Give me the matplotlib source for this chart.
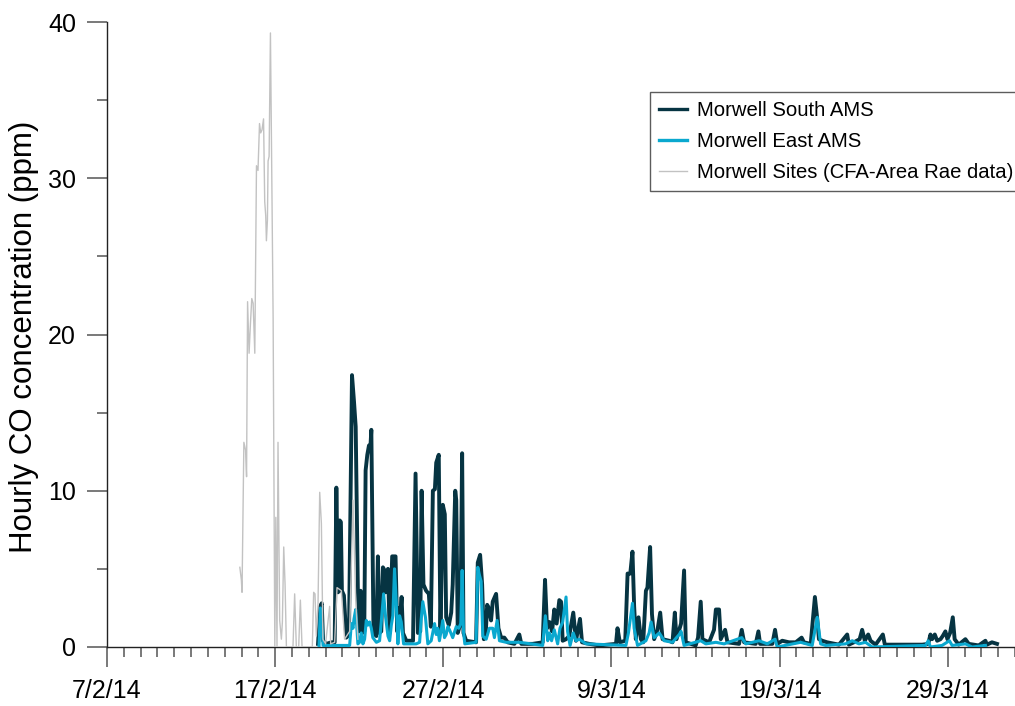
import numpy as np
import pandas as pd
import matplotlib
matplotlib.use("Agg")
import matplotlib.pyplot as plt
import matplotlib.dates as mdates
from matplotlib.lines import Line2D

plt.rcParams['font.family'] = ['Liberation Sans', 'DejaVu Sans']

START = pd.Timestamp('2014-02-07')

# ---- data: time in days after 7 Feb 2014, hourly CO (ppm) ----
cfa_days = [7.90, 7.99, 8.03, 8.14, 8.24, 8.30, 8.36, 8.45, 8.53, 8.61, 8.69, 8.79, 8.89, 8.98,
            9.07, 9.14, 9.22, 9.31, 9.38, 9.44, 9.48, 9.54, 9.58, 9.64, 9.72, 9.88, 9.98, 10.04,
            10.11, 10.17, 10.27, 10.37, 10.43, 10.51, 10.59, 10.67, 11.06, 11.16, 11.26, 11.40,
            11.50, 11.60, 12.21, 12.29, 12.37, 12.45, 12.55, 12.65, 12.75, 12.84, 13.00, 13.24,
            13.30, 13.54, 13.68, 13.94, 14.13, 14.43, 14.63, 14.79, 14.92]
cfa_ppm = [5.1, 4.3, 3.5, 13.1, 12.6, 10.9, 22.1, 18.8, 20.7, 22.3, 22.0, 18.8, 30.8, 30.5,
           33.5, 32.9, 33.1, 33.8, 28.5, 27.6, 26.0, 27.3, 31.1, 31.4, 39.3, 21.0, 0.0, 8.3,
           0.0, 13.1, 1.7, 0.5, 1.6, 6.4, 4.0, 0.0, 0.0, 3.4, 0.0, 0.0,
           3.0, 0.0, 0.0, 3.5, 3.4, 0.7, 2.8, 9.9, 7.9, 0.5, 0.2, 2.6,
           0.2, 0.3, 3.8, 3.6, 0.5, 1.0, 9.4, 3.0, 0.5]

south_days = [12.55, 12.69, 12.77, 12.85, 13.05, 13.34, 13.54, 13.64, 13.74, 13.84, 13.91, 13.97,
              14.09, 14.23, 14.39, 14.57, 14.69, 14.79, 14.92, 15.01, 15.08, 15.18, 15.30, 15.38,
              15.48, 15.58, 15.66, 15.72, 15.85, 16.02, 16.11, 16.21, 16.31, 16.41, 16.51, 16.57,
              16.65, 16.71, 16.81, 16.91, 16.96, 17.16, 17.26, 17.36, 17.44, 17.52, 17.60, 17.80,
              18.20, 18.35, 18.49, 18.63, 18.71, 18.82, 18.98, 19.14, 19.26, 19.38, 19.50, 19.58,
              19.73, 19.83, 19.97, 20.09, 20.17, 20.33, 20.47, 20.56, 20.71, 20.77, 20.86, 21.02,
              21.12, 21.20, 21.36, 21.95, 22.05, 22.19, 22.31, 22.41, 22.51, 22.61, 22.70, 22.84,
              22.94, 23.14, 23.28, 23.44, 23.63, 23.83, 24.23, 24.52, 24.64, 25.31, 25.91, 26.05,
              26.17, 26.31, 26.47, 26.60, 26.74, 26.90, 27.00, 27.10, 27.30, 27.49, 27.73, 27.89,
              28.13, 28.25, 28.68, 29.28, 30.27, 30.36, 30.50, 30.82, 30.96, 31.12, 31.25, 31.35,
              31.45, 31.61, 31.75, 31.89, 32.05, 32.14, 32.30, 32.41, 32.54, 32.74, 32.90, 33.04,
              33.43, 33.63, 33.77, 33.87, 34.03, 34.14, 34.32, 34.42, 35.01, 35.15, 35.31, 35.41,
              35.81, 36.10, 36.21, 36.40, 36.50, 36.76, 36.90, 37.59, 37.75, 37.89, 38.58, 38.74,
              38.84, 39.57, 39.73, 39.86, 40.16, 40.56, 40.96, 41.31, 41.45, 41.85, 42.10, 42.24,
              42.34, 42.54, 42.83, 43.53, 44.02, 44.12, 44.42, 44.76, 44.91, 45.07, 45.27, 45.41,
              45.71, 46.14, 46.26, 48.48, 48.84, 48.97, 49.07, 49.23, 49.37, 49.57, 49.70, 49.86,
              49.98, 50.14, 50.30, 50.41, 50.65, 51.05, 51.25, 51.84, 52.24, 52.33, 52.63, 52.93]
south_ppm = [0.2, 2.6, 2.8, 0.4, 0.2, 0.3, 0.3, 10.2, 3.5, 8.1, 8.0, 3.6,
             3.3, 0.6, 0.8, 17.4, 15.7, 14.1, 3.6, 1.0, 3.6, 0.9, 1.0, 11.3,
             12.3, 12.9, 12.7, 13.9, 0.9, 0.7, 5.8, 0.9, 1.0, 5.1, 4.9, 3.5,
             3.8, 5.0, 0.9, 4.0, 5.8, 5.8, 1.0, 2.5, 2.0, 3.2, 0.9, 0.4,
             0.4, 11.1, 0.9, 1.0, 10.0, 4.0, 3.6, 3.4, 1.3, 10.0, 10.1, 11.8,
             12.3, 0.9, 9.1, 8.5, 1.9, 1.4, 2.2, 4.0, 10.0, 9.4, 0.9, 1.5,
             12.4, 0.9, 0.4, 0.3, 5.4, 5.9, 4.0, 0.5, 0.6, 2.7, 2.5, 1.7,
             2.9, 3.4, 1.2, 0.6, 0.6, 0.3, 0.2, 0.8, 0.2, 0.2, 0.3, 4.3,
             1.2, 1.6, 1.0, 2.4, 1.5, 3.0, 2.9, 0.4, 0.5, 0.7, 2.2, 0.4,
             1.8, 0.3, 0.2, 0.1, 0.2, 1.2, 0.3, 0.4, 4.7, 4.7, 6.1, 2.6,
             0.5, 1.9, 0.5, 0.3, 3.6, 3.8, 6.4, 2.1, 0.5, 1.1, 2.2, 0.5,
             0.4, 0.3, 2.2, 0.5, 1.1, 1.5, 4.9, 0.3, 0.1, 0.6, 2.9, 0.5,
             0.3, 1.1, 2.4, 2.4, 0.5, 1.1, 0.3, 0.2, 1.1, 0.3, 0.2, 1.0,
             0.2, 0.2, 1.1, 0.2, 0.4, 0.3, 0.3, 0.6, 0.3, 0.2, 3.2, 1.8,
             0.5, 0.4, 0.3, 0.15, 0.8, 0.15, 0.3, 0.5, 1.1, 0.4, 0.8, 0.4,
             0.15, 0.8, 0.15, 0.15, 0.2, 0.8, 0.5, 0.8, 0.4, 0.5, 0.7, 1.0,
             0.5, 0.9, 1.9, 0.5, 0.15, 0.5, 0.2, 0.1, 0.4, 0.15, 0.3, 0.2]

east_days = [12.61, 12.69, 12.77, 12.85, 14.43, 14.53, 14.63, 14.69, 14.79, 14.92, 15.02, 15.12,
             15.22, 15.32, 15.42, 15.52, 15.62, 15.72, 15.81, 16.02, 16.21, 16.31, 16.45, 16.57,
             16.71, 16.81, 16.91, 17.00, 17.10, 17.20, 17.30, 17.40, 17.50, 17.64, 18.39, 18.59,
             18.68, 18.78, 18.94, 19.08, 19.28, 19.48, 19.58, 19.67, 19.77, 19.97, 20.07, 20.17,
             20.27, 20.37, 20.56, 20.77, 20.92, 21.04, 21.12, 21.20, 21.28, 21.95, 22.05, 22.15,
             22.25, 22.35, 22.55, 22.74, 22.94, 23.04, 23.20, 23.34, 23.74, 24.52, 25.91, 26.07,
             26.21, 26.31, 26.44, 26.60, 26.80, 26.94, 27.10, 27.30, 27.39, 27.54, 27.73, 27.89,
             28.09, 28.49, 30.86, 31.01, 31.25, 31.35, 31.55, 32.05, 32.24, 32.36, 32.54, 32.84,
             33.14, 33.63, 34.03, 34.14, 34.32, 35.31, 35.61, 36.21, 36.70, 37.75, 37.99, 38.78,
             39.27, 39.73, 39.86, 41.25, 41.94, 42.24, 42.44, 42.74, 43.92, 44.32, 44.72, 45.11,
             45.51, 48.68, 48.84, 48.97, 49.66, 50.10, 50.26, 51.05, 51.45, 52.24]
east_ppm = [0.1, 2.5, 1.5, 0.1, 0.1, 1.5, 1.2, 1.8, 2.4, 0.2, 0.3, 0.9,
            0.2, 0.5, 1.7, 1.4, 1.6, 1.2, 0.6, 0.3, 0.4, 1.6, 3.4, 1.9,
            0.7, 0.4, 1.4, 2.0, 5.0, 2.9, 0.2, 2.0, 1.6, 0.2, 0.2, 0.3,
            1.7, 2.9, 1.9, 0.2, 0.4, 1.5, 0.8, 1.2, 0.4, 1.7, 0.6, 0.8,
            1.3, 1.1, 0.6, 1.3, 1.2, 1.5, 4.9, 1.0, 0.2, 0.3, 5.1, 4.6,
            4.2, 0.7, 0.5, 1.2, 1.2, 0.6, 1.7, 0.4, 0.3, 0.3, 0.1, 2.0,
            0.4, 0.9, 0.4, 1.1, 0.2, 1.2, 1.6, 3.2, 1.0, 0.1, 0.9, 0.4,
            0.5, 0.2, 0.1, 0.9, 2.8, 1.2, 0.1, 0.4, 0.9, 1.6, 0.6, 0.9,
            0.4, 0.3, 0.8, 1.0, 0.1, 0.4, 0.2, 0.3, 0.2, 0.6, 0.2, 0.4,
            0.2, 0.5, 0.0, 0.3, 0.1, 1.9, 0.2, 0.1, 0.2, 0.4, 0.2, 0.3,
            0.0, 0.1, 0.4, 0.0, 0.1, 0.4, 0.1, 0.2, 0.0, 0.1]

series_labels = ['Morwell South AMS', 'Morwell East AMS', 'Morwell Sites (CFA-Area Rae data)']
xtick_labels = ['7/2/14', '17/2/14', '27/2/14', '9/3/14', '19/3/14', '29/3/14']
ytick_values = [0, 10, 20, 30, 40]
ylabel = 'Hourly CO concentration (ppm)'

def to_time(days):
    return START + pd.to_timedelta(np.asarray(days), unit='D')

C_SOUTH = '#063442'
C_EAST = '#0aa8cf'
C_CFA = '#c2c2c2'

W, H = 1015, 706
fig = plt.figure(figsize=(W / 100, H / 100), dpi=100)
ax = fig.add_axes([107 / W, 1 - 647 / H, (W - 107) / W, 625 / H])

ax.plot(to_time(south_days), south_ppm, color=C_SOUTH, lw=2.8, zorder=2, solid_joinstyle='round')
ax.plot(to_time(east_days), east_ppm, color=C_EAST, lw=2.2, zorder=3, solid_joinstyle='round')
ax.plot(to_time(cfa_days), cfa_ppm, color=C_CFA, lw=1.0, zorder=4)

ax.set_ylim(0, 40)
ax.set_xlim(START, START + pd.Timedelta(days=54))

major_dates = [START + pd.Timedelta(days=10 * i) for i in range(len(xtick_labels))]
ax.set_xticks(major_dates)
ax.set_xticklabels(xtick_labels)
ax.xaxis.set_minor_locator(mdates.DayLocator())
ax.set_yticks(ytick_values)
ax.set_yticks([5, 15, 25, 35], minor=True)

for s in ['top', 'right']:
    ax.spines[s].set_visible(False)
for s in ['left', 'bottom']:
    ax.spines[s].set_color('#222222')
    ax.spines[s].set_linewidth(1.0)

ax.tick_params(axis='both', which='major', length=14.4, width=1.1, color='#555555',
               labelsize=18, direction='out')
ax.tick_params(axis='both', which='minor', length=7.2, width=1.1, color='#555555', direction='out')
ax.tick_params(axis='x', which='major', pad=9)
ax.tick_params(axis='y', which='major', pad=8)

fig.text(24 / W, 1 - 337 / H, ylabel, rotation=90, ha='center', va='center', fontsize=22.5)

handles = [Line2D([], [], color=C_SOUTH, lw=2.4),
           Line2D([], [], color=C_EAST, lw=2.4),
           Line2D([], [], color=C_CFA, lw=1.0)]
leg = ax.legend(handles, series_labels, loc='upper left',
                bbox_to_anchor=(650 / W, 1 - 92 / H), bbox_transform=fig.transFigure,
                borderaxespad=0, fontsize=14.6, frameon=True, fancybox=False,
                handlelength=1.37, handletextpad=0.48, borderpad=0.45, labelspacing=0.58)
leg.get_frame().set_edgecolor('#333333')
leg.get_frame().set_linewidth(1.0)

fig.savefig('out.png', dpi=100)
